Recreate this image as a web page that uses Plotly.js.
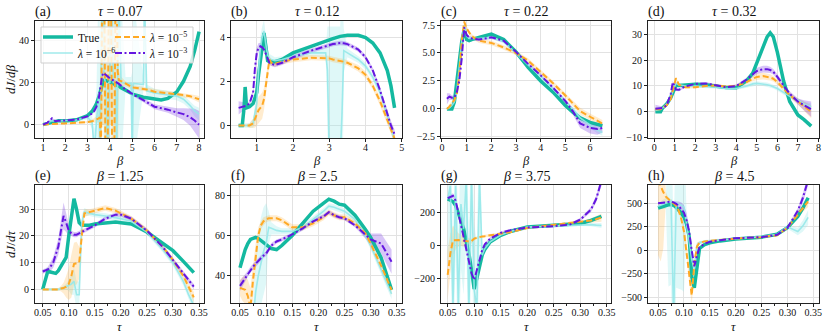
<!DOCTYPE html>
<html>
<head>
<meta charset="utf-8">
<script src="https://cdn.plot.ly/plotly-3.0.1.min.js"></script>
<style>
  html, body { margin: 0; padding: 0; background: #fff; }
  #plot { width: 831px; height: 336px; }
</style>
</head>
<body>
<div id="plot"></div>
<script>
// ---- (a) tau = 0.07, dJ/dbeta vs beta ----
const betaA = [1, 1.2, 1.4, 1.55, 1.7, 2, 2.5, 3, 3.2, 3.3, 3.4, 3.5, 3.55, 3.6, 3.65, 3.7, 3.75, 3.8, 3.85, 3.9, 3.95, 4, 4.05, 4.1, 4.15, 4.2, 4.25, 4.3, 4.35, 4.4, 4.5, 4.7, 4.95, 5, 5.05, 5.5, 5.55, 5.65, 6, 6.3, 6.6, 7, 7.3, 7.6, 7.8, 8];
const trueA = [0, 0.6, 1.0, 1.3, 1.9, 1.7, 2.3, 4.3, 6.3, 8, 10, 13, 15, 17.5, 19.5, 20.5, 21, 21, 20.8, 20.5, 20.2, 20, 19.8, 19.6, 19.4, 19.2, 19, 18.8, 18.5, 18.2, 17.5, 16.2, 14.8, 14.5, 14.3, 13, 12.9, 12.6, 12, 11.7, 12.4, 15.5, 20.5, 27.5, 35, 44];
const lam6A = [0, 0.8, 1.8, 1.6, 1.7, 1.8, 2.2, 3.5, 1, -12, 3, 15, -15, 20, 60, 60, 22, 20, -15, -15, 20, 20, 60, 60, 20, 20, 20, -15, 20, 60, 20, 19.5, 19.5, -15, 19.5, 19, 60, 16, 15, 14.5, 14, 13.5, 12, 9, 6.5, 5];
const sd6A = [0.5, 0.5, 0.8, 0.6, 0.6, 0.6, 0.8, 1, 3, 10, 15, 60, 60, 60, 60, 60, 60, 60, 60, 60, 60, 60, 60, 60, 60, 60, 60, 60, 60, 60, 40, 3, 3, 40, 40, 3, 40, 3, 2, 2, 2, 2, 2, 2, 2.5, 3];
const lam5A = [0, 0.2, 0.3, 0.4, 0.5, 0.6, 0.8, 1.2, 1.6, 2, 2.5, 3, 3.5, -15, 60, 60, 60, -15, -15, -15, 60, 60, 60, -15, -15, -15, 60, 60, 25, 21, 20.6, 19.3, 17.9, 17.7, 17.6, 16.9, 16.8, 16.6, 15.6, 15.3, 14.9, 14.3, 14, 13.4, 12.8, 12];
const sd5A = [0.2, 0.2, 0.3, 0.3, 0.3, 0.3, 0.4, 0.5, 0.8, 1, 1.5, 2, 10, 60, 60, 60, 60, 60, 60, 60, 60, 60, 60, 60, 60, 60, 60, 60, 60, 5, 2, 1.2, 1, 1, 1, 1, 1, 1, 1, 1, 1, 1, 1, 1, 1.2, 1.5];
const lam3A = [0, 1.0, 3.0, 1.6, 1.8, 1.9, 2.4, 4.0, 5.3, 6.5, 8.5, 12.5, 16, 20, 23, 24.5, 24, 23.5, 23, 22.6, 22.2, 21.9, 21.6, 21.3, 21, 20.7, 20.4, 20.1, 19.7, 19.3, 18.4, 16.6, 14.9, 14.5, 14.2, 11.6, 11.3, 10.7, 8.5, 7.8, 7.1, 5.8, 5, 3.5, 2, 0];
const sd3A = [0.3, 0.3, 0.5, 0.3, 0.3, 0.3, 0.3, 0.4, 0.5, 0.5, 0.6, 0.8, 1, 1.2, 1.2, 1.2, 1, 1, 0.8, 0.8, 0.8, 0.8, 0.8, 0.8, 0.8, 0.8, 0.8, 0.8, 0.8, 0.8, 0.8, 0.8, 0.8, 0.8, 0.8, 1, 1, 1, 1.2, 1.3, 1.5, 2, 2.8, 4, 5.5, 6.5];

// ---- (b) tau = 0.12 ----
const betaB = [0.5, 0.6, 0.65, 0.68, 0.72, 0.8, 0.9, 0.95, 1.0, 1.05, 1.1, 1.15, 1.2, 1.25, 1.3, 1.35, 1.4, 1.5, 1.7, 2.0, 2.5, 2.9, 2.95, 3.0, 3.1, 3.3, 3.35, 3.4, 3.5, 3.8, 4.0, 4.2, 4.4, 4.6, 4.7, 4.8];
const trueB = [0, 0, 0.8, 1.75, 0.8, 0.85, 1.0, 1.2, 1.5, 2.3, 3.0, 3.5, 4.2, 3.6, 2.95, 2.9, 2.9, 2.9, 3.0, 3.3, 3.6, 3.85, 3.88, 3.9, 3.95, 4.05, 4.07, 4.08, 4.1, 4.1, 4.0, 3.75, 3.3, 2.5, 1.8, 0.8];
const lam6B = [0, 0, 0, 0, 0, 0, 0.1, 0.5, 1.0, 2.5, 3.5, 4.0, 4.3, 3.7, 3.2, 3.05, 3.0, 2.95, 3.0, 3.15, 3.3, 3.3, 2.5, -1.5, -1.5, -1.5, 0.5, 3.4, 3.3, 3.0, 2.7, 2.2, 1.5, 0.5, -0.1, -0.7];
const sd6B = [0.1, 0.1, 0.1, 0.1, 0.1, 0.1, 0.2, 0.4, 0.6, 0.6, 0.6, 0.5, 0.5, 0.4, 0.3, 0.2, 0.2, 0.15, 0.15, 0.15, 0.15, 0.2, 2, 6, 6, 6, 6, 1, 0.2, 0.15, 0.15, 0.15, 0.15, 0.2, 0.2, 0.2];
const lam5B = [0, 0, 0, 0, 0, 0, 0.1, 0.3, 0.5, 0.7, 0.8, 0.9, 1.2, 1.8, 2.5, 3.0, 2.85, 2.8, 2.9, 3.0, 3.08, 3.05, 3.05, 3.05, 3.0, 2.95, 2.93, 2.9, 2.85, 2.6, 2.3, 1.8, 1.1, 0.2, -0.2, -0.6];
const sd5B = [0.05, 0.05, 0.05, 0.05, 0.05, 0.1, 0.2, 0.4, 0.5, 0.6, 0.6, 0.6, 0.5, 0.4, 0.3, 0.2, 0.15, 0.12, 0.12, 0.12, 0.12, 0.12, 0.12, 0.12, 0.12, 0.12, 0.12, 0.12, 0.12, 0.15, 0.15, 0.15, 0.2, 0.2, 0.2, 0.2];
const lam3B = [0.8, 0.85, 0.9, 0.9, 0.9, 1.0, 1.5, 2.6, 3.3, 3.55, 3.6, 3.55, 3.45, 3.25, 3.0, 2.85, 2.8, 2.75, 2.85, 3.1, 3.4, 3.6, 3.62, 3.65, 3.7, 3.75, 3.75, 3.74, 3.7, 3.45, 3.1, 2.5, 1.6, 0.5, 0.0, -0.4];
const sd3B = [0.3, 0.2, 0.15, 0.15, 0.1, 0.1, 0.15, 0.25, 0.25, 0.2, 0.15, 0.1, 0.1, 0.1, 0.1, 0.1, 0.1, 0.1, 0.1, 0.1, 0.1, 0.1, 0.1, 0.1, 0.1, 0.1, 0.1, 0.1, 0.1, 0.1, 0.1, 0.12, 0.15, 0.2, 0.2, 0.2];

// ---- (c) tau = 0.22 ----
const betaC = [0.2, 0.3, 0.4, 0.5, 0.6, 0.7, 0.8, 0.9, 1.0, 1.1, 1.2, 1.5, 2.0, 2.5, 3.0, 3.5, 4.0, 4.5, 5.0, 5.3, 5.6, 6.0, 6.3, 6.5];
const trueC = [0, 0, 0, 0.6, 2.5, 4.5, 6.0, 7.1, 6.2, 6.1, 6.2, 6.4, 6.7, 6.2, 5.1, 3.7, 2.5, 1.5, 0.3, -0.3, -0.8, -1.2, -1.4, -1.5];
const lam6C = [0, 0.1, 0.3, 0.6, 1.5, 4.0, 6.0, 7.5, 6.5, 6.3, 6.3, 6.3, 6.4, 6.0, 5.0, 3.9, 2.9, 1.8, 0.7, 0.0, -0.8, -1.4, -1.9, -2.1];
const sd6C = [0.15, 0.15, 0.15, 0.15, 0.2, 0.2, 0.2, 0.2, 0.15, 0.15, 0.15, 0.15, 0.15, 0.15, 0.15, 0.15, 0.15, 0.15, 0.2, 0.25, 0.3, 0.3, 0.3, 0.3];
const lam5C = [0, 0.2, 0.5, 0.8, 1.3, 3.0, 6.0, 7.8, 7.2, 6.8, 6.5, 6.1, 5.9, 5.5, 5.0, 4.3, 3.3, 2.3, 1.2, 0.5, -0.2, -0.7, -1.1, -1.3];
const sd5C = [0.1, 0.2, 0.2, 0.2, 0.2, 0.2, 0.2, 0.2, 0.2, 0.2, 0.2, 0.2, 0.2, 0.2, 0.2, 0.2, 0.2, 0.2, 0.2, 0.25, 0.3, 0.3, 0.3, 0.3];
const lam3C = [0.9, 1.1, 1.0, 1.0, 1.5, 2.5, 4.5, 7.3, 6.6, 6.4, 6.3, 6.2, 6.4, 6.1, 5.1, 4.0, 3.0, 1.9, 0.7, -0.2, -1.3, -1.7, -1.8, -1.7];
const sd3C = [0.5, 0.3, 0.2, 0.2, 0.2, 0.2, 0.2, 0.2, 0.15, 0.15, 0.15, 0.15, 0.15, 0.15, 0.15, 0.15, 0.15, 0.15, 0.2, 0.3, 0.4, 0.5, 0.5, 0.4];

// ---- (d) tau = 0.32 ----
const betaD = [0.05, 0.3, 0.4, 0.6, 0.8, 0.9, 1.0, 1.05, 1.2, 1.5, 2.0, 2.5, 3.0, 3.5, 4.0, 4.5, 4.8, 5.0, 5.3, 5.5, 5.65, 5.8, 6.0, 6.3, 6.6, 7.0, 7.3, 7.65];
const trueD = [0, 0, 1.5, 3, 5.5, 7.5, 10, 10.2, 10.2, 10.5, 10.7, 10.5, 10.0, 9.4, 9.3, 12, 15, 19, 25, 29, 30.5, 29, 23, 12, 4, -1.2, -3, -5.5];
const lam6D = [0.5, 1, 1.5, 3, 6, 8, 10.5, 11, 10.5, 10, 10, 9.8, 9.5, 9, 9, 10, 10.8, 11, 10.8, 10.5, 10.2, 9.8, 9, 7.5, 6, 4.5, 3, 2];
const sd6D = [0.6, 0.6, 0.6, 0.6, 0.6, 0.6, 0.6, 0.6, 0.6, 0.6, 0.6, 0.6, 0.6, 0.6, 0.6, 0.7, 0.8, 0.8, 0.8, 0.8, 0.8, 0.8, 0.8, 0.8, 0.8, 0.8, 1, 1.2];
const lam5D = [1.0, 1.0, 1.5, 2.5, 5, 8, 11.5, 13, 10.5, 9.5, 9.5, 10, 10.2, 9.8, 10, 11.5, 12.8, 13.5, 13.8, 13.6, 13.3, 12.8, 11.5, 9, 6.5, 4, 2, 0];
const sd5D = [0.8, 0.5, 0.5, 0.5, 0.5, 0.6, 0.6, 0.6, 0.5, 0.5, 0.5, 0.5, 0.5, 0.5, 0.6, 0.8, 1, 1.2, 1.3, 1.3, 1.2, 1.1, 1, 1, 1, 1.2, 1.8, 2.5];
const lam3D = [1.2, 1.3, 1.5, 2.5, 7, 11.5, 9.2, 8.6, 8.5, 9.8, 10.8, 11.0, 10.3, 9.5, 10.0, 12.5, 14.5, 15.8, 16.5, 16.5, 16.2, 15.5, 13.5, 10, 7, 4, 2.5, 1.0];
const sd3D = [1.5, 0.8, 0.6, 0.5, 0.5, 0.5, 0.5, 0.5, 0.5, 0.5, 0.5, 0.5, 0.5, 0.5, 0.6, 0.8, 1, 1.2, 1.3, 1.3, 1.2, 1.1, 1, 1, 1, 1.2, 2, 3];

// ---- (e) beta = 1.25, dJ/dtau vs tau ----
const tauE = [0.05, 0.055, 0.06, 0.065, 0.07, 0.075, 0.08, 0.085, 0.09, 0.095, 0.10, 0.105, 0.11, 0.115, 0.12, 0.125, 0.13, 0.14, 0.15, 0.17, 0.19, 0.20, 0.22, 0.25, 0.28, 0.30, 0.32, 0.33, 0.34];
const trueE = [0, 4, 7, 6.5, 6.3, 6, 7, 8.5, 10, 12, 20, 28, 34, 30, 25, 24, 24, 24, 24.5, 25, 25.2, 25, 24.5, 21.5, 17.5, 14.5, 10.5, 8.5, 6.3];
const lam6E = [0, 0, 0, 0, 0, 0, 0, 0.3, 0.5, 1, 1.5, 2, 3, -2, -2, 25, 29, 28.5, 28, 27.5, 27, 26.5, 25.5, 21.5, 15, 10, 3, -2, -6];
const sd6E = [0.5, 0.5, 0.5, 0.5, 0.5, 0.5, 0.5, 0.5, 0.8, 1, 2, 4, 5, 5, 5, 3, 1.5, 1, 1, 1, 1, 1, 1, 1, 1, 1.2, 1.5, 2, 2.5];
const lam5E = [0, 0, 0, 0, 0, 0, 0, 0.3, 0.5, 1, 2, 5, 9.5, 9.8, 10, 20, 28.5, 29, 29.5, 30.5, 29.5, 28.5, 26.5, 22, 16, 11, 5, 1, -3];
const sd5E = [0.3, 0.3, 0.3, 0.3, 0.3, 0.3, 0.5, 1, 2, 4, 6, 8, 8, 8, 6, 3, 1.5, 1, 1, 1, 1, 1, 1, 1, 1, 1, 1.2, 1.5, 2];
const lam3E = [6.7, 7, 7.5, 8.5, 10, 13, 16, 22, 27.5, 25, 22, 21, 20.5, 20.5, 21, 21.5, 22, 23, 24, 26.5, 28, 28, 26.5, 22, 16, 11, 6, 3.5, 1];
const sd3E = [0.8, 0.8, 1, 1.5, 2, 2.5, 3, 4, 5, 3.5, 2, 1, 1, 1, 0.8, 0.8, 0.8, 0.8, 0.8, 0.8, 0.8, 0.8, 0.8, 0.8, 0.8, 0.8, 0.8, 1, 1];

// ---- (f) beta = 2.5 ----
const tauF = [0.05, 0.055, 0.06, 0.065, 0.07, 0.075, 0.08, 0.085, 0.09, 0.095, 0.10, 0.105, 0.11, 0.12, 0.13, 0.15, 0.17, 0.19, 0.21, 0.22, 0.23, 0.24, 0.25, 0.27, 0.29, 0.30, 0.32, 0.34];
const trueF = [44, 49, 53, 56, 58, 58.5, 59, 58.5, 57.5, 56.5, 55.5, 54.5, 53.5, 53, 55, 60, 66, 72, 76, 78, 77, 75.5, 75, 70, 63, 59, 49, 33];
const lam6F = [15, 15, 15, 15, 15, 18, 32, 40, 47, 52, 56, 64, 63.5, 62.5, 62, 62, 64, 68, 72, 74.5, 74, 73, 72, 68, 60, 55, 43, 31];
const sd6F = [5, 5, 5, 5, 5, 8, 15, 20, 22, 22, 20, 8, 3, 2, 1.5, 1.5, 1.5, 1.5, 1.5, 1.5, 1.5, 1.5, 1.5, 1.5, 1.5, 2, 2, 2.5];
const lam5F = [34, 33.5, 33, 30, 24, 38, 50, 60, 65, 67, 68, 68.5, 68.5, 68.5, 67.5, 64, 64, 66, 69, 71.5, 70, 69, 69, 66, 61, 56, 45, 33];
const sd5F = [4, 6, 7, 8, 10, 8, 6, 4, 2, 2, 1.5, 1.5, 1.5, 1.5, 1.5, 1.5, 1.5, 1.5, 1.5, 1.5, 1.5, 1.5, 1.5, 1.5, 1.5, 2, 2, 2.5];
const lam3F = [35, 37, 39, 41, 43, 44.5, 46, 47.5, 49, 50, 51, 53, 55, 57, 58, 60.5, 63.5, 67, 69.5, 71.5, 70, 69, 68.5, 65, 60, 58, 56, 47];
const sd3F = [2.5, 2, 2, 1.5, 1.5, 1.5, 1.2, 1.2, 1.2, 1.2, 1.2, 1.2, 1.2, 1, 1, 1, 1, 1, 1, 1, 1, 1, 1, 1, 1.5, 3, 5, 6];

// ---- (g) beta = 3.75 ----
const tauG = [0.05, 0.055, 0.06, 0.065, 0.07, 0.075, 0.08, 0.085, 0.09, 0.095, 0.10, 0.105, 0.11, 0.115, 0.12, 0.13, 0.15, 0.17, 0.20, 0.25, 0.28, 0.30, 0.32, 0.33, 0.34];
const trueG = [280, 275, 265, 240, 200, 150, 100, 30, -50, -150, -265, -200, -120, -60, -25, 20, 60, 85, 110, 120, 125, 132, 150, 162, 175];
const lam6G = [280, 360, -360, 360, -360, 250, 100, 400, -380, 400, -270, -380, 400, -60, -20, 20, 62, 85, 110, 118, 122, 125, 125, 122, 120];
const sd6G = [400, 400, 400, 400, 400, 400, 400, 400, 400, 400, 400, 400, 400, 50, 20, 8, 8, 8, 8, 8, 8, 8, 10, 12, 15];
const lam5G = [-180, -50, 30, 32, 32, 30, 28, 25, 22, 25, 40, 45, 50, 53, 55, 60, 70, 80, 105, 122, 132, 140, 150, 158, 168];
const sd5G = [150, 120, 90, 60, 40, 35, 35, 30, 20, 15, 10, 8, 8, 8, 8, 8, 8, 8, 8, 8, 8, 8, 12, 18, 25];
const lam3G = [285, 295, 300, 270, 200, 130, 60, -20, -100, -170, -210, -150, -80, -30, 5, 40, 75, 92, 108, 115, 125, 155, 215, 280, 390];
const sd3G = [15, 15, 15, 12, 10, 10, 10, 10, 10, 10, 12, 10, 10, 10, 8, 8, 8, 8, 8, 8, 8, 10, 15, 20, 30];

// ---- (h) beta = 4.5 ----
const tauH = [0.05, 0.055, 0.06, 0.065, 0.07, 0.075, 0.08, 0.085, 0.09, 0.095, 0.10, 0.105, 0.11, 0.115, 0.12, 0.125, 0.13, 0.14, 0.15, 0.17, 0.20, 0.25, 0.28, 0.30, 0.32, 0.33, 0.34];
const trueH = [450, 460, 470, 478, 485, 488, 480, 455, 430, 395, 355, 280, 150, -280, -400, -150, 20, 60, 80, 100, 120, 140, 170, 240, 360, 450, 560];
const lam6H = [470, 480, 490, 500, 515, 530, -700, 500, 490, 480, 460, 300, 100, -100, -200, 50, 80, 95, 100, 110, 120, 145, 170, 250, 200, 260, 350];
const sd6H = [30, 40, 50, 60, 900, 900, 900, 900, 900, 900, 900, 100, 60, 60, 60, 30, 15, 15, 15, 15, 15, 15, 15, 20, 40, 60, 80];
const lam5H = [750, 680, 620, 570, 540, 520, 500, 470, 420, 330, 200, 0, -250, -480, -150, 40, 80, 95, 100, 110, 125, 140, 160, 240, 380, 450, 520];
const sd5H = [800, 800, 600, 50, 20, 15, 15, 15, 20, 30, 50, 80, 100, 100, 80, 40, 15, 10, 10, 10, 10, 10, 10, 15, 25, 40, 60];
const lam3H = [500, 505, 510, 515, 520, 518, 510, 495, 470, 440, 400, 320, 200, 0, -170, -60, 30, 70, 90, 108, 128, 140, 165, 240, 420, 560, 750];
const sd3H = [10, 10, 10, 10, 10, 10, 15, 30, 50, 70, 80, 80, 60, 40, 20, 15, 10, 10, 10, 10, 10, 10, 10, 15, 30, 50, 60];

const W = 831, H = 336;
const FONT = "'Liberation Serif', 'DejaVu Serif', serif";
const C_TRUE = '#14b9a0', C_L6 = 'rgba(150,232,233,0.9)', C_L5 = '#ffa924', C_L3 = '#6416e0';
const F_L6 = 'rgba(150,232,233,0.3)', F_L5 = 'rgba(255,169,36,0.22)', F_L3 = 'rgba(100,22,224,0.25)';

const panels = [
  { x: betaA, tr: trueA, l6: lam6A, s6: sd6A, l5: lam5A, s5: sd5A, l3: lam3A, s3: sd3A,
    label: '(a)', title: '<i>τ</i> = 0.07', xr: [0.64, 8.22], yr: [-6.3, 49], dx: 1, dy: 20 },
  { x: betaB, tr: trueB, l6: lam6B, s6: sd6B, l5: lam5B, s5: sd5B, l3: lam3B, s3: sd3B,
    label: '(b)', title: '<i>τ</i> = 0.12', xr: [0.29, 5.005], yr: [-0.57, 4.75], dx: 1, dy: 2 },
  { x: betaC, tr: trueC, l6: lam6C, s6: sd6C, l5: lam5C, s5: sd5C, l3: lam3C, s3: sd3C,
    label: '(c)', title: '<i>τ</i> = 0.22', xr: [-0.04, 6.85], yr: [-2.6, 7.86], dx: 1, dy: 2.5, yfmt: '.1f' },
  { x: betaD, tr: trueD, l6: lam6D, s6: sd6D, l5: lam5D, s5: sd5D, l3: lam3D, s3: sd3D,
    label: '(d)', title: '<i>τ</i> = 0.32', xr: [-0.31, 8.03], yr: [-10.1, 35.1], dx: 1, dy: 10 },
  { x: tauE, tr: trueE, l6: lam6E, s6: sd6E, l5: lam5E, s5: sd5E, l3: lam3E, s3: sd3E,
    label: '(e)', title: '<i>β</i> = 1.25', xr: [0.0352, 0.3596], yr: [-5.1, 39.1], dx: 0.05, dy: 10, xfmt: '.2f' },
  { x: tauF, tr: trueF, l6: lam6F, s6: sd6F, l5: lam5F, s5: sd5F, l3: lam3F, s3: sd3F,
    label: '(f)', title: '<i>β</i> = 2.5', xr: [0.0328, 0.360], yr: [26.5, 85], dx: 0.05, dy: 20, xfmt: '.2f' },
  { x: tauG, tr: trueG, l6: lam6G, s6: sd6G, l5: lam5G, s5: sd5G, l3: lam3G, s3: sd3G,
    label: '(g)', title: '<i>β</i> = 3.75', xr: [0.0374, 0.358], yr: [-350, 365], dx: 0.05, dy: 200, xfmt: '.2f' },
  { x: tauH, tr: trueH, l6: lam6H, s6: sd6H, l5: lam5H, s5: sd5H, l3: lam3H, s3: sd3H,
    label: '(h)', title: '<i>β</i> = 4.5', xr: [0.0305, 0.361], yr: [-561, 695], dx: 0.05, dy: 250, xfmt: '.2f' }
];

// pixel boxes of the axes
const colsPx = [[35, 204], [231, 402], [441, 611], [648, 819]];
const rowsPx = [[21, 138], [185, 303]];

// shaded band: lower edge then upper edge filled to it
function band(x, y, s, fill, xa, ya) {
  const lo = y.map((v, i) => v - s[i]);
  const hi = y.map((v, i) => v + s[i]);
  return [
    { x: x, y: lo, xaxis: xa, yaxis: ya, mode: 'lines', line: { width: 0, color: fill }, hoverinfo: 'skip', showlegend: false },
    { x: x, y: hi, xaxis: xa, yaxis: ya, mode: 'lines', line: { width: 0, color: fill }, fill: 'tonexty', fillcolor: fill, hoverinfo: 'skip', showlegend: false }
  ];
}

const axisStyle = {
  showline: true, mirror: true, linecolor: '#222', linewidth: 1,
  ticks: 'outside', ticklen: 3, tickwidth: 1, tickcolor: '#222',
  showgrid: true, gridcolor: '#e2e2e2', gridwidth: 1, zeroline: false,
  tickfont: { family: FONT, size: 10, color: '#111' }, fixedrange: true
};

// one small legend per entry, so the 2x2 grid sits where the reference has it
function legendAt(px, py) {
  return { x: px / W, y: 1 - py / H, xanchor: 'left', yanchor: 'middle', bgcolor: 'rgba(0,0,0,0)',
           traceorder: 'normal', font: { family: FONT, size: 11.5 }, itemwidth: 30, borderwidth: 0 };
}

const traces = [];
const layout = {
  width: W, height: H, margin: { l: 0, r: 0, t: 0, b: 0 },
  paper_bgcolor: '#fff', plot_bgcolor: '#fff',
  font: { family: FONT, color: '#111' },
  showlegend: true,
  legend: legendAt(38, 37),
  legend2: legendAt(38, 53),
  legend3: legendAt(110, 37),
  legend4: legendAt(110, 53),
  annotations: [],
  shapes: [{ type: 'rect', xref: 'paper', yref: 'paper', x0: 41 / W, x1: 193 / W, y0: 1 - 63 / H, y1: 1 - 27 / H,
             line: { color: '#cfcfcf', width: 1 }, fillcolor: 'rgba(255,255,255,0.8)', layer: 'above' }]
};

panels.forEach((p, i) => {
  const r = i < 4 ? 0 : 1, c = i % 4;
  const suf = i ? String(i + 1) : '';
  const xa = 'x' + suf, ya = 'y' + suf;
  const first = i === 0;

  traces.push(...band(p.x, p.l6, p.s6, F_L6, xa, ya));
  traces.push(...band(p.x, p.l5, p.s5, F_L5, xa, ya));
  traces.push(...band(p.x, p.l3, p.s3, F_L3, xa, ya));

  traces.push({ x: p.x, y: p.tr, xaxis: xa, yaxis: ya, mode: 'lines', name: 'True',
                line: { color: C_TRUE, width: 3.5 }, showlegend: first, legend: 'legend' });
  traces.push({ x: p.x, y: p.l6, xaxis: xa, yaxis: ya, mode: 'lines', name: '<i>λ</i> = 10<sup>−6</sup>',
                line: { color: C_L6, width: 1.6 }, showlegend: first, legend: 'legend2' });
  traces.push({ x: p.x, y: p.l5, xaxis: xa, yaxis: ya, mode: 'lines', name: '<i>λ</i> = 10<sup>−5</sup>',
                line: { color: C_L5, width: 2, dash: '6px,3px' }, showlegend: first, legend: 'legend3' });
  traces.push({ x: p.x, y: p.l3, xaxis: xa, yaxis: ya, mode: 'lines', name: '<i>λ</i> = 10<sup>−3</sup>',
                line: { color: C_L3, width: 2, dash: '7px,2.5px,2px,2.5px' }, showlegend: first, legend: 'legend4' });

  const xd = [colsPx[c][0] / W, colsPx[c][1] / W];
  const yd = [1 - rowsPx[r][1] / H, 1 - rowsPx[r][0] / H];
  const xaxis = Object.assign({}, axisStyle, {
    domain: xd, anchor: ya, range: p.xr, tick0: 0, dtick: p.dx, tickformat: p.xfmt || '',
    ticklabelstandoff: -3
  });
  if (r === 1) xaxis.minor = { ticks: 'outside', ticklen: 2, tickcolor: '#222', dtick: p.dx / 2, tick0: 0, showgrid: false };
  layout['xaxis' + suf] = xaxis;
  layout['yaxis' + suf] = Object.assign({}, axisStyle, {
    domain: yd, anchor: xa, range: p.yr, tick0: 0, dtick: p.dy, tickformat: p.yfmt || ''
  });

  const cx = (xd[0] + xd[1]) / 2;
  // panel title and letter
  layout.annotations.push({ xref: 'paper', yref: 'paper', x: cx, y: 1 - (rowsPx[r][0] - 9) / H,
    text: p.title, showarrow: false, xanchor: 'center', yanchor: 'middle', font: { family: FONT, size: 14 } });
  layout.annotations.push({ xref: 'paper', yref: 'paper', x: (colsPx[c][0] - 2) / W, y: 1 - (rowsPx[r][0] - 9) / H,
    text: p.label, showarrow: false, xanchor: 'left', yanchor: 'middle', font: { family: FONT, size: 14 } });
  // x axis label, just under the tick labels
  layout.annotations.push({ xref: 'paper', yref: 'paper', x: cx, y: 1 - (rowsPx[r][1] + (r ? 24 : 23)) / H,
    text: r === 0 ? '<i>β</i>' : '<i>τ</i>', showarrow: false, xanchor: 'center', yanchor: 'middle',
    font: { family: FONT, size: 12.5 } });
});

// y axis labels of the left column
layout.annotations.push({ xref: 'paper', yref: 'paper', x: 10 / W, y: 1 - 80 / H, text: '<i>dJ</i>/<i>dβ</i>',
  textangle: -90, showarrow: false, xanchor: 'center', yanchor: 'middle', font: { family: FONT, size: 13 } });
layout.annotations.push({ xref: 'paper', yref: 'paper', x: 10 / W, y: 1 - 244 / H, text: '<i>dJ</i>/<i>dτ</i>',
  textangle: -90, showarrow: false, xanchor: 'center', yanchor: 'middle', font: { family: FONT, size: 13 } });

Plotly.newPlot('plot', traces, layout, { staticPlot: true });
</script>
</body>
</html>
